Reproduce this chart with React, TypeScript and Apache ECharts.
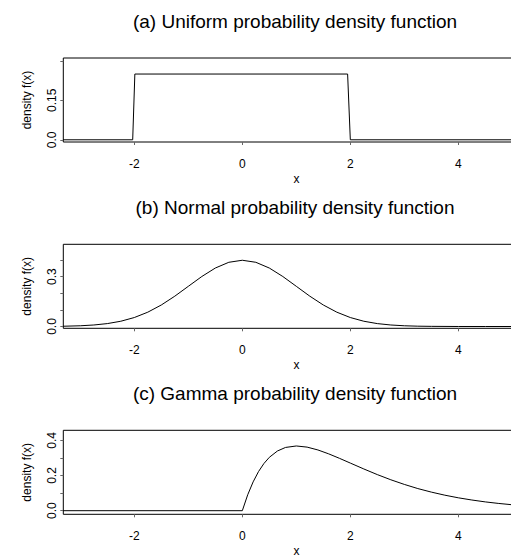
import React, { useEffect, useRef } from "react";
import * as echarts from "echarts";

// ---- data ----
const titles = [
  "(a) Uniform probability density function",
  "(b) Normal probability density function",
  "(c) Gamma probability density function",
];
const xTickValues = [-2, 0, 2, 4];

const uniformX = [-3.32, -2.03, -1.99, 1.95, 2.0, 5.32];
const uniformY = [0, 0, 0.25, 0.25, 0, 0];

const normalX = [-3.32, -3, -2.75, -2.5, -2.25, -2, -1.75, -1.5, -1.25, -1, -0.75, -0.5, -0.25, 0, 0.25, 0.5, 0.75, 1, 1.25, 1.5, 1.75, 2, 2.25, 2.5, 2.75, 3, 3.25, 3.5, 4, 4.5, 5.32];
const normalY = [0.0016, 0.0044, 0.0091, 0.0175, 0.0317, 0.054, 0.0863, 0.1295, 0.1826, 0.242, 0.3011, 0.3521, 0.3867, 0.3989, 0.3867, 0.3521, 0.3011, 0.242, 0.1826, 0.1295, 0.0863, 0.054, 0.0317, 0.0175, 0.0091, 0.0044, 0.002, 0.0009, 0.0001, 0, 0];

const gammaX = [-3.32, 0, 0.1, 0.2, 0.3, 0.4, 0.5, 0.65, 0.8, 1, 1.2, 1.4, 1.6, 1.8, 2, 2.25, 2.5, 2.75, 3, 3.25, 3.5, 3.75, 4, 4.25, 4.5, 4.75, 5, 5.32];
const gammaY = [0, 0, 0.0905, 0.1637, 0.2222, 0.2681, 0.3033, 0.3393, 0.3595, 0.3679, 0.3614, 0.3452, 0.323, 0.2975, 0.2707, 0.2372, 0.2052, 0.1758, 0.1494, 0.1258, 0.1057, 0.0882, 0.0733, 0.0607, 0.05, 0.0411, 0.0337, 0.026];

const yTicksA = [0, 0.15, 0.3];
const yLabelsA = [0, 0.15];
const yTicksB = [0, 0.1, 0.2, 0.3, 0.4];
const yLabelsB = [0, 0.3];
const yTicksC = [0, 0.1, 0.2, 0.3, 0.4];
const yLabelsC = [0, 0.2, 0.4];

const FONT = "'Liberation Sans', Arial, Helvetica, sans-serif";

export default function App() {
  const ref = useRef<HTMLDivElement>(null);
  useEffect(() => {
    if (!ref.current) return;
    const chart = echarts.init(ref.current, undefined, { renderer: "svg" });

    const gridLeft = 63.3;
    const gridWidth = 466.3;
    const gridTops = [58, 244.3, 430.3];
    const gridH = 84;
    const yRanges = [
      [-0.0084, 0.311],
      [-0.0108, 0.495],
      [-0.0205, 0.457],
    ];
    const yTicks = [yTicksA, yTicksB, yTicksC];
    const yLabels = [yLabelsA, yLabelsB, yLabelsC];
    const series = [
      { x: uniformX, y: uniformY },
      { x: normalX, y: normalY },
      { x: gammaX, y: gammaY },
    ];
    const fmt = (v: number) => (v === 0 ? "0.0" : String(Math.round(v * 100) / 100));

    const option: any = {
      animation: false,
      backgroundColor: "#ffffff",
      grid: gridTops.map((t) => ({
        left: gridLeft,
        top: t,
        width: gridWidth,
        height: gridH,
        show: true,
        borderColor: "#000",
        borderWidth: 1,
        backgroundColor: "transparent",
        containLabel: false,
        outerBoundsMode: "none",
      })),
      xAxis: gridTops.map((_, i) => ({
        type: "value",
        gridIndex: i,
        min: -3.315,
        max: 5.32,
        name: "x",
        nameLocation: "middle",
        nameGap: 31,
        nameTextStyle: { fontFamily: FONT, fontSize: 12, lineHeight: 12, color: "#000" },
        splitLine: { show: false },
        axisLine: { show: false, onZero: false },
        axisTick: { show: true, length: 3, lineStyle: { color: "#666" }, customValues: xTickValues },
        axisLabel: {
          show: true,
          fontFamily: FONT,
          fontSize: 12,
          color: "#000",
          margin: 16,
          customValues: xTickValues,
          formatter: (v: number) => String(v),
        },
      })),
      yAxis: gridTops.map((_, i) => ({
        type: "value",
        gridIndex: i,
        min: yRanges[i][0],
        max: yRanges[i][1],
        name: "density f(x)",
        nameLocation: "middle",
        nameGap: 30,
        nameRotate: 90,
        nameTextStyle: { fontFamily: FONT, fontSize: 12, color: "#000" },
        splitLine: { show: false },
        axisLine: { show: false, onZero: false },
        axisTick: { show: true, length: 3, lineStyle: { color: "#666" }, customValues: yTicks[i] },
        axisLabel: {
          show: true,
          rotate: 90,
          fontFamily: FONT,
          fontSize: 12,
          color: "#000",
          margin: 5,
          customValues: yLabels[i],
          formatter: fmt,
        },
      })),
      series: series.map((s, i) => ({
        type: "line",
        xAxisIndex: i,
        yAxisIndex: i,
        data: s.x.map((x, k) => [x, s.y[k]]),
        showSymbol: false,
        symbol: "none",
        lineStyle: { color: "#000", width: 1 },
        clip: true,
        silent: true,
      })),
      graphic: titles.map((t, i) => ({
        type: "text",
        x: 295,
        y: 21 + i * 186,
        style: {
          text: t,
          fontFamily: FONT,
          fontSize: 19,
          fill: "#000",
          align: "center",
          verticalAlign: "middle",
        },
      })),
    };
    chart.setOption(option);
    return () => chart.dispose();
  }, []);

  return (
    <div style={{ position: "absolute", left: 0, top: 0, width: 511, height: 557, overflow: "hidden", background: "#fff" }}>
      <div ref={ref} style={{ width: 600, height: 557 }} />
    </div>
  );
}
